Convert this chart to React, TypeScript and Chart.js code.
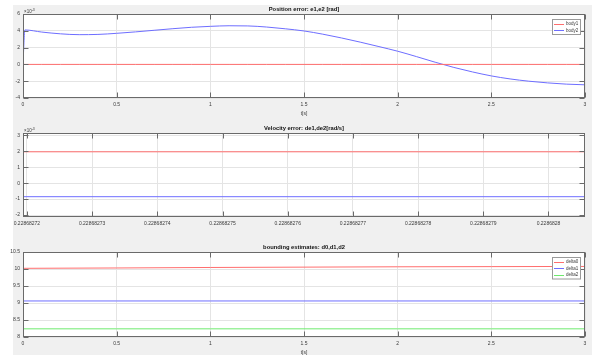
import React, { useEffect, useRef } from "react";
import { Chart, registerables } from "chart.js";
Chart.register(...registerables);

// ---------- Plot 1: Position error e1,e2 (values in units of 1e-3 rad) ----------
const posTime = [0, 0.01, 0.1, 0.2, 0.3, 0.4, 0.5, 0.6, 0.7, 0.8, 0.9, 1.0, 1.1, 1.2, 1.3, 1.4, 1.5, 1.6, 1.7, 1.8, 1.9, 2.0, 2.1, 2.2, 2.3, 2.4, 2.5, 2.6, 2.7, 2.8, 2.9, 3.0];
const posBody1 = [0, 0, 0, 0, 0, 0, 0, 0, 0, 0, 0, 0, 0, 0, 0, 0, 0, 0, 0, 0, 0, 0, 0, 0, 0, 0, 0, 0, 0, 0, 0, 0];
const posBody2 = [0, 4.1, 3.85, 3.64, 3.54, 3.57, 3.7, 3.87, 4.06, 4.25, 4.42, 4.53, 4.6, 4.58, 4.45, 4.24, 3.98, 3.6, 3.15, 2.65, 2.12, 1.57, 0.93, 0.26, -0.36, -0.9, -1.37, -1.73, -2.0, -2.2, -2.35, -2.43];

// ---------- Plot 2: Velocity error de1,de2 (values in units of 1e-3 rad/s) ----------
const velTime = [0.2286827194, 0.2286828056];
const velBody1 = [1.97, 1.97];
const velBody2 = [-0.85, -0.85];
const velXTicks = [0.22868272, 0.22868273, 0.22868274, 0.22868275, 0.22868276, 0.22868277, 0.22868278, 0.22868279, 0.2286828];
const velXTickLabels = ["0.22868272", "0.22868273", "0.22868274", "0.22868275", "0.22868276", "0.22868277", "0.22868278", "0.22868279", "0.2286828"];

// ---------- Plot 3: bounding estimates d0,d1,d2 ----------
const bndTime = [0, 0.001, 0.5, 1, 1.5, 2, 2.5, 3];
const delta0 = [10.02, 10.02, 10.03, 10.045, 10.055, 10.065, 10.07, 10.075];
const delta1 = [9.06, 9.06, 9.06, 9.06, 9.06, 9.06, 9.06, 9.06];
const delta2 = [8, 8.24, 8.24, 8.24, 8.24, 8.24, 8.24, 8.24];

const RED = "#ff6e6e";
const BLUE = "#6e6eff";
const GREEN = "#6eea6e";
const GRID = "#e4e4e4";
const FRAME = "#6a6a6a";
const TEXT = "#3a3a3a";
const FONT = '"Liberation Sans", Arial, sans-serif';
const TL = 5;
const Y_AXIS_W = 23;
const X_AXIS_H = 12;

const fmt = (v: any) => String(+Number(v).toFixed(6));

const matlabPlugin = {
  id: "matlab",
  beforeDraw(chart: any) {
    const { ctx, chartArea: a } = chart;
    ctx.save();
    ctx.fillStyle = "#ffffff";
    ctx.fillRect(a.left, a.top, a.right - a.left, a.bottom - a.top);
    ctx.restore();
  },
  afterDraw(chart: any, _args: any, opts: any) {
    const { ctx, chartArea: a } = chart;
    const xs = chart.scales.x;
    const ys = chart.scales.y;
    ctx.save();
    ctx.strokeStyle = FRAME;
    ctx.lineWidth = 1;
    const L = Math.round(a.left) + 0.5;
    const R = Math.round(a.right) - 0.5;
    const T = Math.round(a.top) + 0.5;
    const B = Math.round(a.bottom) - 0.5;
    ctx.strokeRect(L, T, R - L, B - T);
    ctx.beginPath();
    xs.ticks.forEach((t: any) => {
      const px = Math.round(xs.getPixelForValue(t.value)) + 0.5;
      ctx.moveTo(px, T);
      ctx.lineTo(px, T + TL);
      ctx.moveTo(px, B);
      ctx.lineTo(px, B - TL);
    });
    ys.ticks.forEach((t: any) => {
      const py = Math.round(ys.getPixelForValue(t.value)) + 0.5;
      ctx.moveTo(L, py);
      ctx.lineTo(L + TL, py);
      ctx.moveTo(R, py);
      ctx.lineTo(R - TL, py);
    });
    ctx.stroke();

    const cx = (a.left + a.right) / 2;
    ctx.fillStyle = "#111";
    ctx.font = `bold 5.8px ${FONT}`;
    ctx.textAlign = "center";
    ctx.textBaseline = "middle";
    ctx.fillText(opts.title, cx, a.top - 5);

    if (opts.xlabel) {
      ctx.fillStyle = TEXT;
      ctx.font = `5px ${FONT}`;
      ctx.fillText(opts.xlabel, cx, a.bottom + 15.5);
    }

    if (opts.exponent) {
      ctx.fillStyle = TEXT;
      ctx.textAlign = "left";
      ctx.textBaseline = "alphabetic";
      ctx.font = `4.5px ${FONT}`;
      const base = "\u00d710";
      ctx.fillText(base, a.left + 1, a.top - 1.5);
      const w = ctx.measureText(base).width;
      ctx.font = `3.5px ${FONT}`;
      ctx.fillText(opts.exponent, a.left + 1 + w, a.top - 3.5);
    }

    if (opts.legend) {
      const items = opts.legend as { label: string; color: string }[];
      const bw = 28;
      const bh = items.length * 6.5 + 2;
      const bx = a.right - 5 - bw;
      const by = a.top + 5;
      ctx.fillStyle = "#ffffff";
      ctx.fillRect(bx, by, bw, bh);
      ctx.strokeStyle = "#9a9a9a";
      ctx.strokeRect(Math.round(bx) + 0.5, Math.round(by) + 0.5, bw, bh);
      items.forEach((it, i) => {
        const y = by + 4.5 + i * 6.5;
        ctx.strokeStyle = it.color;
        ctx.lineWidth = 1;
        ctx.beginPath();
        ctx.moveTo(bx + 2, Math.round(y) + 0.5);
        ctx.lineTo(bx + 12, Math.round(y) + 0.5);
        ctx.stroke();
        ctx.fillStyle = TEXT;
        ctx.font = `4.5px ${FONT}`;
        ctx.textAlign = "left";
        ctx.textBaseline = "middle";
        ctx.fillText(it.label, bx + 14, y + 0.5);
      });
    }
    ctx.restore();
  },
};

function series(xs: number[], ys: number[], label: string, color: string) {
  return {
    label,
    data: xs.map((x, i) => ({ x, y: ys[i] })),
    borderColor: color,
    backgroundColor: color,
    borderWidth: 1,
    pointRadius: 0,
    fill: false,
    cubicInterpolationMode: "monotone" as const,
  };
}

function makeConfig(p: any) {
  const tickFont = { family: FONT, size: 5 };
  return {
    type: "line",
    data: { datasets: p.datasets },
    plugins: [matlabPlugin],
    options: {
      animation: false,
      responsive: false,
      events: [],
      layout: { padding: p.pad },
      plugins: {
        legend: { display: false },
        tooltip: { enabled: false },
        title: { display: false },
        matlab: p.matlab,
      },
      scales: {
        x: {
          type: "linear",
          min: p.xMin,
          max: p.xMax,
          ticks: {
            stepSize: p.xStep,
            font: tickFont,
            color: TEXT,
            padding: 4,
            maxRotation: 0,
            autoSkip: false,
            includeBounds: false,
            callback: p.xTickLabels ? (_v: any, i: number) => p.xTickLabels[i] : fmt,
          },
          grid: { color: GRID, drawTicks: false, lineWidth: 1 },
          border: { display: false },
          afterBuildTicks: p.xTicks
            ? (s: any) => {
                s.ticks = p.xTicks.map((v: number) => ({ value: v }));
              }
            : undefined,
          afterFit: (s: any) => {
            s.height = X_AXIS_H;
          },
        },
        y: {
          type: "linear",
          min: p.yMin,
          max: p.yMax,
          ticks: {
            stepSize: p.yStep,
            font: tickFont,
            color: TEXT,
            padding: 3,
            autoSkip: false,
            includeBounds: false,
            callback: fmt,
          },
          grid: { color: GRID, drawTicks: false, lineWidth: 1 },
          border: { display: false },
          afterFit: (s: any) => {
            s.width = Y_AXIS_W;
          },
        },
      },
    },
  };
}

const configs = [
  () =>
    makeConfig({
      datasets: [series(posTime, posBody1, "body1", RED), series(posTime, posBody2, "body2", BLUE)],
      xMin: 0,
      xMax: 3,
      xStep: 0.5,
      yMin: -4,
      yMax: 6,
      yStep: 2,
      pad: { left: 0, top: 14, right: 7, bottom: 257 - X_AXIS_H },
      matlab: {
        title: "Position error: e1,e2 [rad]",
        xlabel: "t[s]",
        exponent: "-3",
        legend: [
          { label: "body1", color: RED },
          { label: "body2", color: BLUE },
        ],
      },
    }),
  () =>
    makeConfig({
      datasets: [series(velTime, velBody1, "body1", RED), series(velTime, velBody2, "body2", BLUE)],
      xMin: velTime[0],
      xMax: velTime[velTime.length - 1],
      xTicks: velXTicks,
      xTickLabels: velXTickLabels,
      yMin: -2.125,
      yMax: 3.15,
      yStep: 1,
      pad: { left: 0, top: 133, right: 7, bottom: 138 - X_AXIS_H },
      matlab: {
        title: "Velocity error: de1,de2[rad/s]",
        exponent: "-3",
      },
    }),
  () =>
    makeConfig({
      datasets: [
        series(bndTime, delta0, "delta0", RED),
        series(bndTime, delta1, "delta1", BLUE),
        series(bndTime, delta2, "delta2", GREEN),
      ],
      xMin: 0,
      xMax: 3,
      xStep: 0.5,
      yMin: 8,
      yMax: 10.5,
      yStep: 0.5,
      pad: { left: 0, top: 252, right: 7, bottom: 18 - X_AXIS_H },
      matlab: {
        title: "bounding estimates: d0,d1,d2",
        xlabel: "t[s]",
        legend: [
          { label: "delta0", color: RED },
          { label: "delta1", color: BLUE },
          { label: "delta2", color: GREEN },
        ],
      },
    }),
];

function Plot({ idx }: { idx: number }) {
  const ref = useRef<HTMLCanvasElement>(null);
  useEffect(() => {
    if (!ref.current) return;
    const chart = new Chart(ref.current, configs[idx]() as any);
    return () => chart.destroy();
  }, [idx]);
  return (
    <canvas
      ref={ref}
      width={592}
      height={355}
      style={{ position: "absolute", left: 0, top: 0, width: 592, height: 355 }}
    />
  );
}

export default function App() {
  return (
    <div style={{ position: "fixed", left: 0, top: 0, width: 592, height: 355, background: "#ffffff", overflow: "hidden" }}>
      <div style={{ position: "absolute", left: 13, top: 5, right: 0, bottom: 0, background: "#f0f0f0" }} />
      <Plot idx={0} />
      <Plot idx={1} />
      <Plot idx={2} />
    </div>
  );
}
